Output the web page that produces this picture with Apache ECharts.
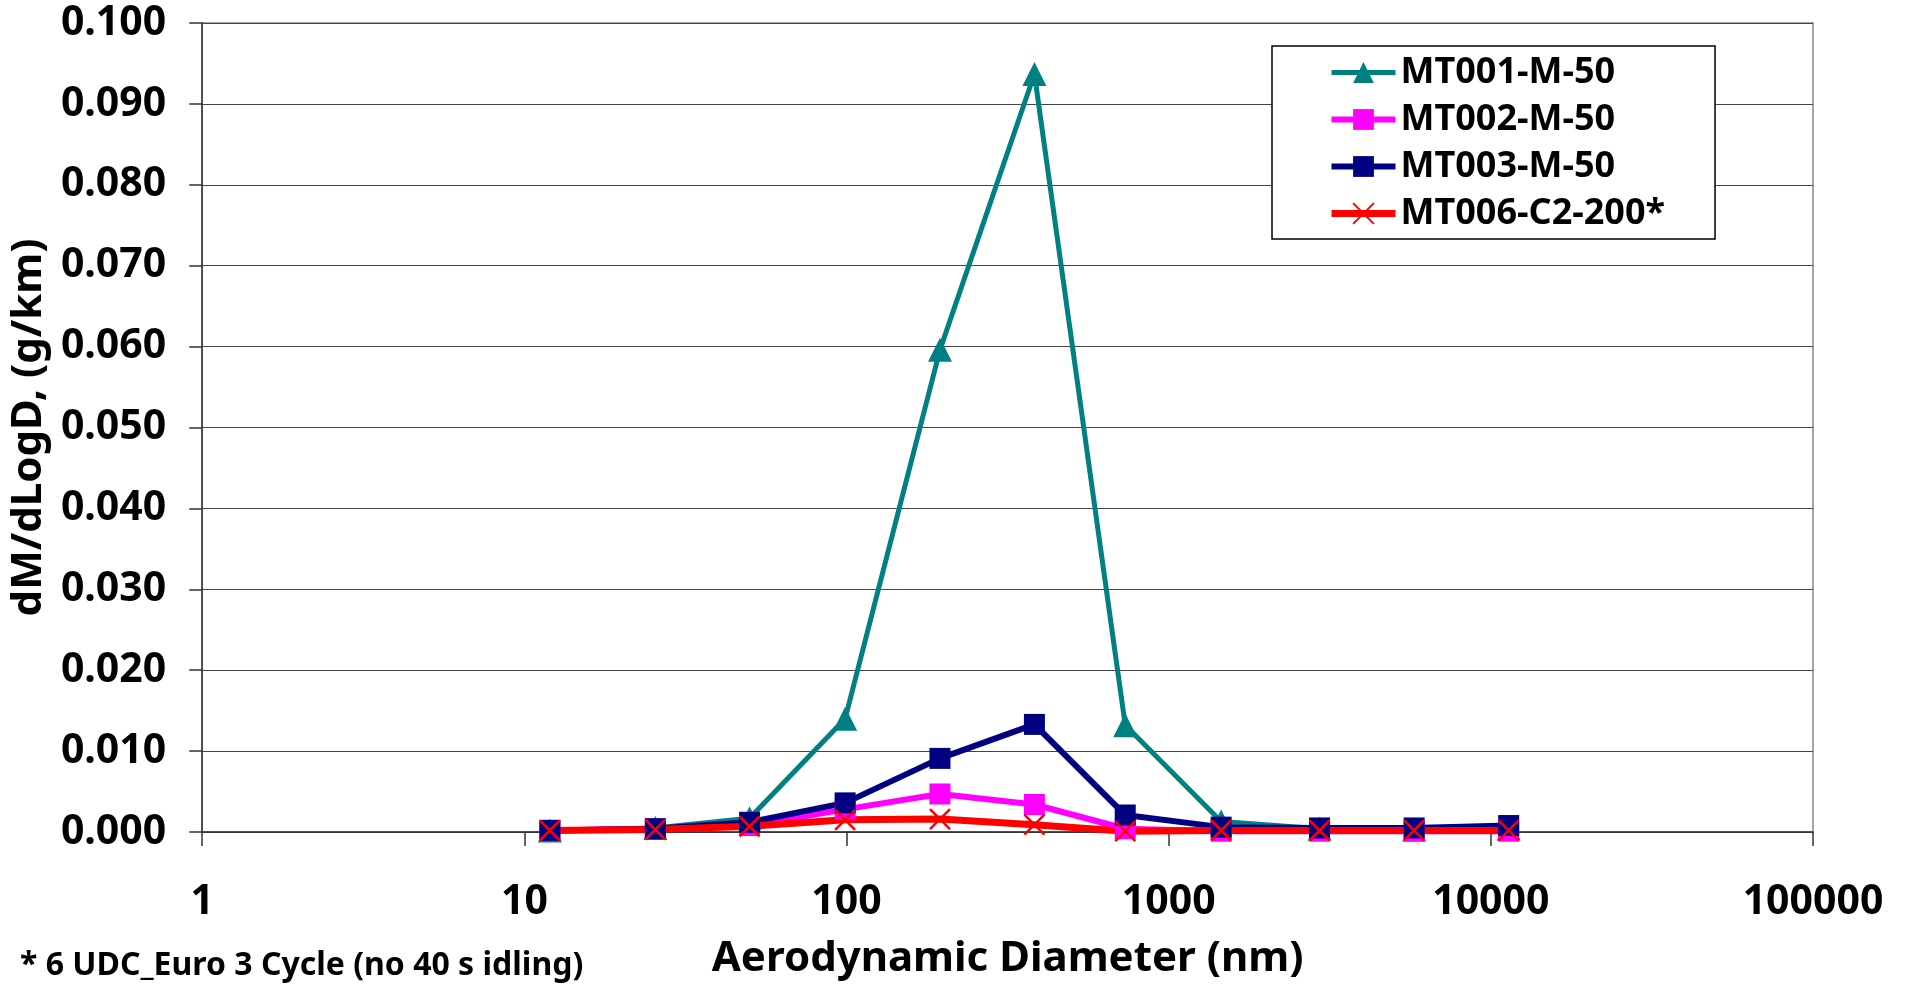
<!DOCTYPE html>
<html>
<head>
<meta charset="utf-8">
<title>dM/dLogD vs Aerodynamic Diameter</title>
<script src="https://cdn.jsdelivr.net/npm/echarts@6/dist/echarts.min.js"></script>
<style>
  html, body { margin: 0; padding: 0; background: #fff; }
  #chart { width: 1906px; height: 985px; }
</style>
</head>
<body>
<div id="chart"></div>
<script>
// Diameters (nm)
const diameters = [12, 25.5, 50, 99, 195, 383, 733, 1455, 2940, 5780, 11360];

// dM/dLogD (g/km) per sample
const mt001 = [0.0002, 0.0005, 0.0017, 0.0140, 0.0596, 0.0937, 0.0132, 0.0013, 0.0004, 0.0003, 0.0004];
const mt002 = [0.0002, 0.0004, 0.0008, 0.0028, 0.0047, 0.0034, 0.0004, 0.0001, 0.0001, 0.0001, 0.0001];
const mt003 = [0.0002, 0.0004, 0.0012, 0.0036, 0.0091, 0.0133, 0.0021, 0.0006, 0.0005, 0.0005, 0.0008];
const mt006 = [0.0002, 0.0003, 0.0007, 0.0015, 0.0016, 0.0009, 0.0001, 0.0002, 0.0002, 0.0002, 0.0002];

const seriesNames = ['MT001-M-50', 'MT002-M-50', 'MT003-M-50', 'MT006-C2-200*'];
const footnote = '* 6 UDC_Euro 3 Cycle (no 40 s idling)';

const FONT = '"Noto Sans", "Open Sans", sans-serif';
const crossPath = 'path://M0,0L20,20M20,0L0,20';

const pairs = (ys) => diameters.map((d, i) => [d, ys[i]]);

const makeSeries = (name, ys, color, symbol, size, width, extraItem) => ({
    name: name,
    type: 'line',
    data: pairs(ys),
    symbol: symbol,
    symbolSize: size,
    showSymbol: true,
    lineStyle: { color: color, width: width },
    itemStyle: Object.assign({ color: color }, extraItem || {}),
    emphasis: { disabled: true },
    animation: false
});

const chart = echarts.init(document.getElementById('chart'));

const option = {
    backgroundColor: '#ffffff',
    textStyle: { fontFamily: FONT },
    grid: {
        left: 201,
        right: 93,
        top: 23,
        bottom: 152,
        show: true,
        borderColor: '#888888',
        borderWidth: 1.5
    },
    legend: {
        orient: 'vertical',
        left: 1272,
        top: 46,
        padding: [6, 50, 5, 56],
        itemWidth: 64,
        itemHeight: 26,
        itemGap: 6,
        borderColor: '#000000',
        borderWidth: 1.5,
        backgroundColor: '#ffffff',
        lineStyle: { width: 'inherit' },
        data: seriesNames,
        textStyle: {
            fontFamily: FONT,
            fontSize: 36,
            fontWeight: 'bold',
            color: '#000000',
            lineHeight: 41
        }
    },
    xAxis: {
        type: 'log',
        logBase: 10,
        min: 1,
        max: 100000,
        name: 'Aerodynamic Diameter (nm)',
        nameLocation: 'middle',
        nameGap: 106,
        nameTextStyle: { fontFamily: FONT, fontSize: 42, fontWeight: 'bold', color: '#000' },
        axisLine: { onZero: false, lineStyle: { color: '#333', width: 1.5 } },
        axisTick: { show: true, inside: false, length: 14, lineStyle: { color: '#333', width: 1.5 } },
        minorTick: { show: false },
        splitLine: { show: false },
        axisLabel: {
            margin: 50,
            fontFamily: FONT,
            fontSize: 41,
            fontWeight: 'bold',
            color: '#000',
            formatter: (v) => String(Math.round(v))
        }
    },
    yAxis: {
        type: 'value',
        min: 0,
        max: 0.1,
        interval: 0.01,
        name: 'dM/dLogD, (g/km)',
        nameLocation: 'middle',
        nameGap: 144,
        nameRotate: 90,
        nameTextStyle: { fontFamily: FONT, fontSize: 42, fontWeight: 'bold', color: '#000' },
        axisLine: { show: true, lineStyle: { color: '#333', width: 1.5 } },
        axisTick: { show: true, inside: false, length: 13, lineStyle: { color: '#333', width: 1.5 } },
        splitLine: { show: true, lineStyle: { color: '#444', width: 1.2 } },
        axisLabel: {
            margin: 36,
            fontFamily: FONT,
            fontSize: 41,
            fontWeight: 'bold',
            color: '#000',
            formatter: (v) => v.toFixed(3)
        }
    },
    graphic: [
        {
            type: 'text',
            left: 20,
            top: 950,
            style: {
                text: footnote,
                fontFamily: FONT,
                fontSize: 32,
                fontWeight: 'bold',
                fill: '#000'
            }
        }
    ],
    series: [
        makeSeries(seriesNames[0], mt001, '#008080', 'triangle', 24, 5),
        makeSeries(seriesNames[1], mt002, '#FF00FF', 'rect', 21, 6),
        makeSeries(seriesNames[2], mt003, '#000080', 'rect', 21, 6),
        makeSeries(seriesNames[3], mt006, '#FF0000', crossPath, 20, 7,
            { color: 'rgba(0,0,0,0)', borderColor: '#FF0000', borderWidth: 2.5 })
    ]
};

chart.setOption(option);
</script>
</body>
</html>
